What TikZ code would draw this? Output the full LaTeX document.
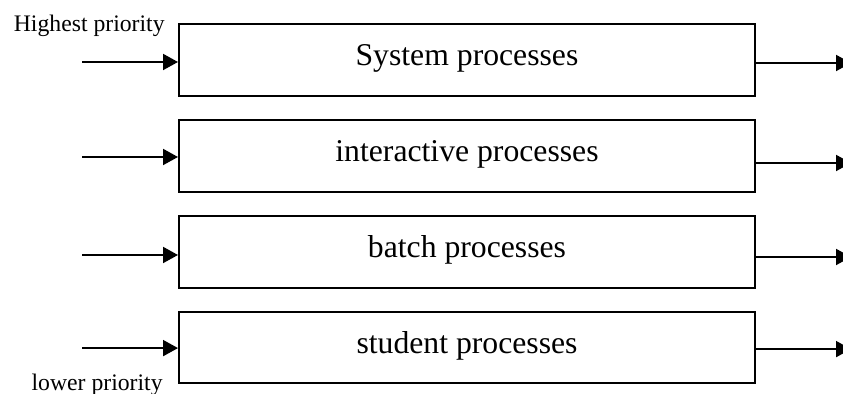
\documentclass[tikz,border=0pt]{standalone}
\usepackage{fontspec}
\setmainfont{Liberation Serif}
\usetikzlibrary{arrows.meta,positioning}
\tikzset{
  qbox/.style={draw=black, line width=1pt, minimum width=288pt, minimum height=36pt,
    inner sep=0pt, text height=10.8pt, text depth=4.8pt,
    font=\fontsize{15.85}{18}\selectfont},
  plabel/.style={font=\fontsize{11.85}{14}\selectfont, inner sep=0pt},
  arr/.style={-{Triangle[length=7.5pt,width=8pt]}, line width=1pt, color=black},
}
\begin{document}
\begin{tikzpicture}
\useasboundingbox (0,0) rectangle (421.5pt,-197pt);

%% QUEUES
\node[qbox] (sysQ) at (233.5pt,-30pt) {System processes};
\node[qbox, below=11pt of sysQ] (interQ) {interactive processes};
\node[qbox, below=11pt of interQ] (batchQ) {batch processes};
\node[qbox, below=11pt of batchQ, minimum height=35.5pt] (studQ) {student processes};

%% PRIORITY LABELS
\node[plabel, anchor=base east] (hiP) at (82.5pt,-16pt) {Highest priority};
\node[plabel, anchor=base east] (loP) at (81.5pt,-195.5pt) {lower priority};

%% ENTRY POINTS
\coordinate[left=48pt of sysQ.west, yshift=-1pt] (sysIn);
\coordinate[left=48pt of interQ.west, yshift=-0.5pt] (interIn);
\coordinate[left=48pt of batchQ.west, yshift=-1.5pt] (batchIn);
\coordinate[left=48pt of studQ.west, yshift=-0.3pt] (studIn);

%% EXIT POINTS
\coordinate[right=47.5pt of sysQ.east, yshift=-1.5pt] (sysOut);
\coordinate[right=47.5pt of interQ.east, yshift=-3.5pt] (interOut);
\coordinate[right=47.5pt of batchQ.east, yshift=-2.5pt] (batchOut);
\coordinate[right=47.5pt of studQ.east, yshift=-0.8pt] (studOut);

%% ARROWS
\draw[arr] (sysIn) -- (sysIn -| sysQ.west);
\draw[arr] (interIn) -- (interIn -| interQ.west);
\draw[arr] (batchIn) -- (batchIn -| batchQ.west);
\draw[arr] (studIn) -- (studIn -| studQ.west);

\draw[arr] (sysOut -| sysQ.east) -- (sysOut);
\draw[arr] (interOut -| interQ.east) -- (interOut);
\draw[arr] (batchOut -| batchQ.east) -- (batchOut);
\draw[arr] (studOut -| studQ.east) -- (studOut);

\end{tikzpicture}
\end{document}
